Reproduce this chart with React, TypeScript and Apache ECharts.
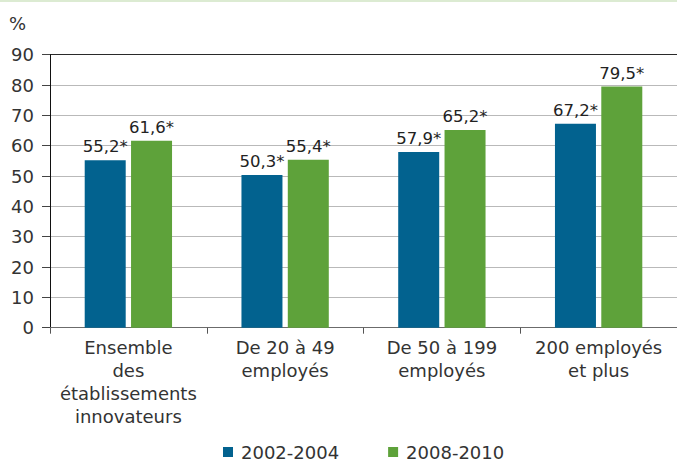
import React, { useEffect, useRef } from "react";
import * as echarts from "echarts";

const categories = [
  "Ensemble\ndes\nétablissements\ninnovateurs",
  "De 20 à 49\nemployés",
  "De 50 à 199\nemployés",
  "200 employés\net plus",
];
const seriesNames = ["2002-2004", "2008-2010"];
const values2002 = [55.2, 50.3, 57.9, 67.2];
const values2008 = [61.6, 55.4, 65.2, 79.5];
const yTicks = { min: 0, max: 90, interval: 10 };

const FONT = "DejaVu Sans";
const BLUE = "#02628f";
const GREEN = "#5ea23a";

export default function App() {
  const ref = useRef<HTMLDivElement>(null);
  useEffect(() => {
    if (!ref.current) return;
    const chart = echarts.init(ref.current, undefined, { renderer: "svg" });
    const fmt = (p: any) => String(p.value).replace(".", ",") + "*";
    const splitColors = Array.from({ length: 10 }, (_, i) => (i === 9 ? "#2a2a2a" : "#b9b9b9"));
    chart.setOption({
      animation: false,
      textStyle: { fontFamily: FONT },
      graphic: [
        { type: "rect", shape: { x: 0, y: 0, width: 677, height: 2 }, style: { fill: "#dcebd2" } },
        {
          type: "text",
          x: 9,
          y: 23,
          style: { text: "%", fontSize: 18, fontFamily: FONT, fill: "#333", verticalAlign: "middle" },
        },
      ],
      grid: { left: 50, top: 54.7, bottom: 136.3, right: -7, containLabel: false },
      legend: {
        left: 218,
        top: 437,
        itemWidth: 10,
        itemHeight: 10,
        itemGap: 49,
        icon: "rect",
        textStyle: { fontSize: 18, fontFamily: FONT, color: "#333", padding: [0, 0, 0, 3], lineHeight: 20 },
        data: seriesNames,
      },
      xAxis: {
        type: "category",
        data: categories,
        axisLine: { lineStyle: { color: "#6b6b6b", width: 1 } },
        axisTick: { show: true, length: 6, lineStyle: { color: "#555" } },
        axisLabel: {
          fontSize: 18,
          lineHeight: 23,
          color: "#333",
          margin: 8,
          fontFamily: FONT,
          interval: 0,
        },
      },
      yAxis: {
        type: "value",
        min: yTicks.min,
        max: yTicks.max,
        interval: yTicks.interval,
        axisLine: { show: true, lineStyle: { color: "#111", width: 1 } },
        axisTick: { show: true, length: 8, lineStyle: { color: "#444" } },
        axisLabel: { fontSize: 18, color: "#333", margin: 16, fontFamily: FONT },
        splitLine: { show: true, lineStyle: { color: splitColors, width: 1 } },
      },
      series: [
        {
          name: seriesNames[0],
          type: "bar",
          data: values2002,
          barWidth: 41,
          barGap: "13%",
          itemStyle: { color: BLUE },
          label: { show: true, position: "top", distance: 5, fontSize: 16.5, color: "#222", fontFamily: FONT, formatter: fmt },
        },
        {
          name: seriesNames[1],
          type: "bar",
          data: values2008,
          barWidth: 41,
          barGap: "13%",
          itemStyle: { color: GREEN },
          label: { show: true, position: "top", distance: 5, fontSize: 16.5, color: "#222", fontFamily: FONT, formatter: fmt },
        },
      ],
    });
    return () => chart.dispose();
  }, []);
  return (
    <div
      ref={ref}
      style={{ position: "absolute", left: 0, top: 0, width: 677, height: 464, background: "#fff" }}
    />
  );
}
